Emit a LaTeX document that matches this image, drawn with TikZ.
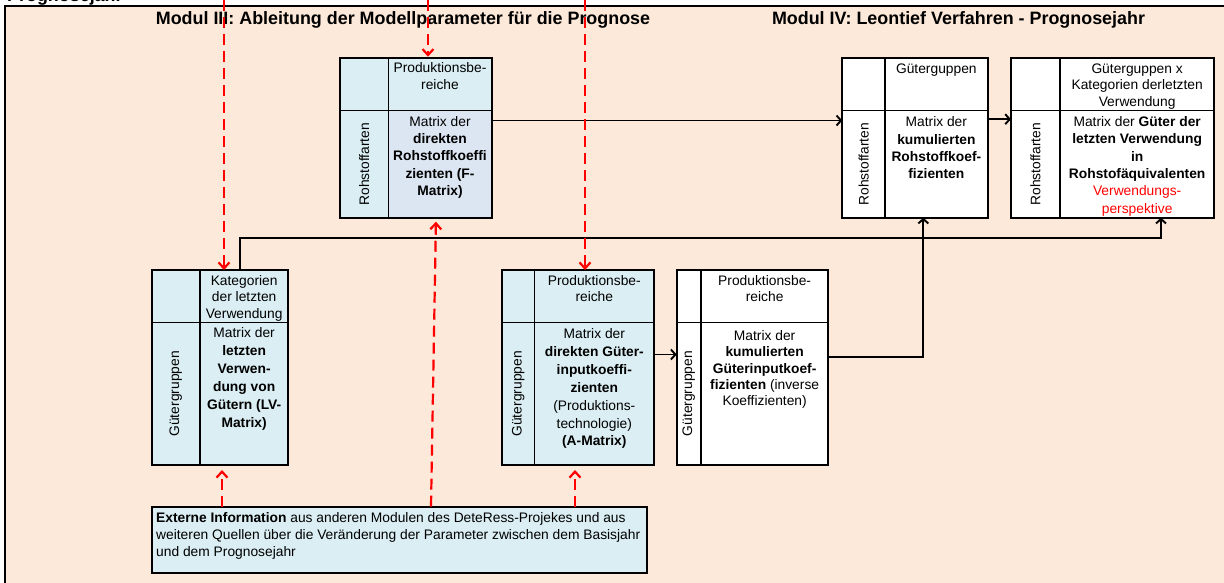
\documentclass[tikz,border=0pt]{standalone}
\usepackage{fontspec}
\setmainfont{Liberation Sans}
\usetikzlibrary{arrows.meta,calc}

\definecolor{frameback}{HTML}{FDE9D9}
\definecolor{cellblue}{HTML}{DAEEF3}
\definecolor{cellsteel}{HTML}{DCE6F2}
\definecolor{infored}{HTML}{FF0000}

\tikzset{
  celltext/.style={font=\fontsize{13.8}{#1}\selectfont, inner sep=0pt, align=center, anchor=north},
  celltext/.default=16.6,
  sidelabel/.style={font=\fontsize{13.8}{16.6}\selectfont, inner sep=0pt, rotate=90},
  heading/.style={font=\fontsize{17.9}{20}\selectfont\bfseries, inner sep=0pt},
  boxshape/.style={rectangle, inner sep=0pt, outer sep=0pt, anchor=north west},
  boxrim/.style={line width=2pt},
  divider/.style={line width=1.2pt},
  flowline/.style={line width=1.9pt},
  flow/.style={flowline, -{Straight Barb[length=4.5pt,width=10pt]}},
  extflow/.style={infored, line width=2.2pt, dash pattern=on 11pt off 6pt,
    -{Straight Barb[length=6pt,width=11pt]}},
}

% name, x1, y1, x2, y2, column split, row split, fill, fill of the lower right cell
\newcommand\gridbox[9]{%
  \node[boxshape, fill=#8, minimum width={#4-#2}, minimum height={#5-#3}] (#1) at (#2,#3) {};
  \fill[#9] (#6,#7) rectangle (#4,#5);
  \draw[divider] (#6,#3) -- (#6,#5);
  \draw[divider] (#2,#7) -- (#4,#7);
  \draw[boxrim] (#1.north west) rectangle (#1.south east);
}

\begin{document}
\begin{tikzpicture}[x=1pt,y=-1pt]
\useasboundingbox (0,0) rectangle (1224,582);
\clip (0,0) rectangle (1224,582);

% background panel
\draw[line width=1.3pt, fill=frameback] (5,6) rectangle (1240,600);

% headings
\node[heading, anchor=base west] (prevtitle) at (7,1.5) {Prognosejahr};
\node[heading, anchor=base] (modthree) at (403,24) {Modul III: Ableitung der Modellparameter für die Prognose};
\node[heading, anchor=base] (modfour) at (958.5,24) {Modul IV: Leontief Verfahren - Prognosejahr};

% matrices
\gridbox{F}{340}{57.7}{491.7}{217.7}{388.3}{110.7}{cellblue}{cellsteel}
\gridbox{LV}{151.7}{270}{288.3}{465}{200}{322.7}{cellblue}{cellblue}
\gridbox{A}{502.3}{270}{654.3}{465}{534.3}{322.7}{cellblue}{cellblue}
\gridbox{KG}{676.7}{270}{828.3}{464.5}{701}{322.7}{white}{white}
\gridbox{KR}{842.3}{57.7}{987.7}{217.7}{885}{110.7}{white}{white}
\gridbox{VW}{1011}{57.7}{1214.3}{217.7}{1060}{110.7}{white}{white}

% F-Matrix
\node[celltext] (Fhead) at (440,62.5) {Produktionsbe-\\reiche};
\node[celltext=17.3] (Fbody) at (440,116) {Matrix der\\\textbf{direkten}\\\textbf{Rohstoffkoeffi}\\\textbf{zienten (F-}\\\textbf{Matrix)}};
\node[sidelabel] (Fside) at (364.15,164.2) {Rohstoffarten};

% LV-Matrix
\node[celltext] (LVhead) at (244.15,275) {Kategorien\\der letzten\\Verwendung};
\node[celltext=17.9] (LVbody) at (244.15,327.7) {Matrix der\\\textbf{letzten}\\\textbf{Verwen-}\\\textbf{dung von}\\\textbf{Gütern (LV-}\\\textbf{Matrix)}};
\node[sidelabel] (LVside) at (175.85,393.85) {Gütergruppen};

% A-Matrix
\node[celltext] (Ahead) at (594.3,275) {Produktionsbe-\\reiche};
\node[celltext=17.9] (Abody) at (594.3,328.3) {Matrix der\\\textbf{direkten Güter-}\\\textbf{inputkoeffi-}\\\textbf{zienten}\\(Produktions-\\technologie)\\\textbf{(A-Matrix)}};
\node[sidelabel] (Aside) at (518.3,393.85) {Gütergruppen};

% cumulated input coefficients
\node[celltext] (KGhead) at (764.65,275) {Produktionsbe-\\reiche};
\node[celltext=16.2] (KGbody) at (764.65,330.5) {Matrix der\\\textbf{kumulierten}\\\textbf{Güterinputkoef-}\\\textbf{fizienten} (inverse\\Koeffizienten)};
\node[sidelabel] (KGside) at (688.85,393.6) {Gütergruppen};

% cumulated raw material coefficients
\node[celltext] (KRhead) at (936.35,63.3) {Güterguppen};
\node[celltext=17.2] (KRbody) at (936.35,116.7) {Matrix der\\\textbf{kumulierten}\\\textbf{Rohstoffkoef-}\\\textbf{fizienten}};
\node[sidelabel] (KRside) at (863.65,164.2) {Rohstoffarten};

% final use in raw material equivalents
\node[celltext=16.8] (VWhead) at (1137.15,63.3) {Güterguppen x\\Kategorien derletzten\\Verwendung};
\node[celltext=17.4] (VWbody) at (1137.15,116) {Matrix der \textbf{Güter der}\\\textbf{letzten Verwendung}\\\textbf{in}\\\textbf{Rohstofäquivalenten}\\\textcolor{infored}{Verwendungs-}\\\textcolor{infored}{perspektive}};
\node[sidelabel] (VWside) at (1035.5,164.2) {Rohstoffarten};

% external information
\node[boxshape, fill=cellblue, draw, line width=2pt, minimum width=495.6, minimum height=66.6] (EX) at (151.7,506.7) {};
\node[font=\fontsize{13.8}{17}\selectfont, inner sep=0pt, align=left, anchor=north west] (EXtext) at (156,512.7)
  {\textbf{Externe Information} aus anderen Modulen des DeteRess-Projekes und aus\\weiteren Quellen über die Veränderung der Parameter zwischen dem Basisjahr\\und dem Prognosejahr};

% calculation flow
\draw[flow] ([yshift=-62.8pt]F.north east) -- ([yshift=-62.8pt]KR.north west);
\draw[flow] ([yshift=-61.5pt]KR.north east) -- ([yshift=-61.5pt]VW.north west);
\draw[flow] ([xshift=88.3pt]LV.north west) |- ([xshift=150pt,yshift=-20pt]VW.south west) -- ([xshift=150pt]VW.south west);
\draw[flow] ([yshift=-84.5pt]A.north east) -- ([yshift=-84.5pt]KG.north west);
\draw[flow] ([yshift=-87.3pt]KG.north east) -| ([xshift=81pt]KR.south west);

% inputs from the base year and from outside
\coordinate (inLV) at (224,0);
\coordinate (inF) at (428,0);
\coordinate (inA) at (585,0);
\draw[extflow] (inLV) -- ([xshift=72.3pt]LV.north west);
\draw[extflow, shorten >=1pt] (inF) -- ([xshift=88pt]F.north west);
\draw[extflow] (inA) -- ([xshift=82.7pt]A.north west);
\draw[extflow, shorten >=5pt] ([xshift=70.3pt]EX.north west) -- ([xshift=70.3pt]LV.south west);
\draw[extflow, shorten >=4pt] ([xshift=279.3pt]EX.north west) -- ([xshift=96pt]F.south west);
\draw[extflow, shorten >=5pt] ([xshift=423.3pt]EX.north west) -- ([xshift=72.7pt]A.south west);
\end{tikzpicture}
\end{document}
